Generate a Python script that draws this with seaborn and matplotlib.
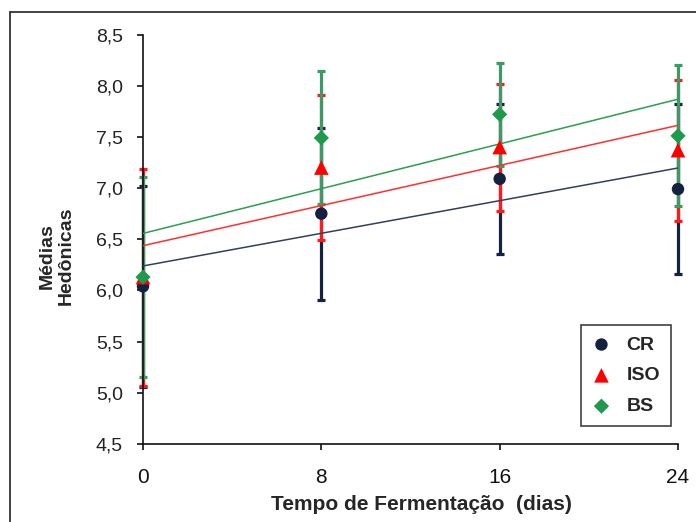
import numpy as np
import pandas as pd
import matplotlib
matplotlib.use("Agg")
import matplotlib.pyplot as plt
import seaborn as sns
from matplotlib.lines import Line2D

# ---- data ----
dias = [0, 8, 16, 24]
series = ["CR", "ISO", "BS"]
cr_mean = [6.04, 6.75, 7.09, 6.99]
cr_err = [0.98, 0.84, 0.73, 0.83]
iso_mean = [6.13, 7.20, 7.40, 7.37]
iso_err = [1.06, 0.71, 0.62, 0.69]
bs_mean = [6.13, 7.49, 7.72, 7.51]
bs_err = [0.98, 0.65, 0.50, 0.69]
yticks = [4.5, 5.0, 5.5, 6.0, 6.5, 7.0, 7.5, 8.0, 8.5]
ytick_labels = ["4,5", "5,0", "5,5", "6,0", "6,5", "7,0", "7,5", "8,0", "8,5"]
xticks = [0, 8, 16, 24]

df = pd.DataFrame({
    "dias": dias * 3,
    "media": cr_mean + iso_mean + bs_mean,
    "erro": cr_err + iso_err + bs_err,
    "grupo": [s for s in series for _ in dias],
})

sns.set_theme(style="white")
plt.rcParams['font.family'] = ['Liberation Sans', 'DejaVu Sans']

marker_col = {"CR": "#15223f", "ISO": "#ff0000", "BS": "#1e9a4c"}
err_col = {"CR": "#15223f", "ISO": "#ff1a1a", "BS": "#3a9a68"}
line_col = {"CR": "#34405a", "ISO": "#ff3030", "BS": "#2aa04e"}
markers = {"CR": "o", "ISO": "^", "BS": "D"}
sizes = {"CR": 80, "ISO": 110, "BS": 60}

fig = plt.figure(figsize=(6.96, 5.22), dpi=100)
ax = fig.add_axes([143 / 696, 78 / 522, 535 / 696, 409.5 / 522])

# error bars
for g in series:
    d = df[df.grupo == g]
    ax.errorbar(d.dias, d.media, yerr=d.erro, fmt="none", ecolor=err_col[g],
                elinewidth=2.3, capsize=3.2, capthick=2.3, clip_on=False, zorder=2)

# trend lines
for g in series:
    d = df[df.grupo == g]
    sns.regplot(data=d, x="dias", y="media", scatter=False, ci=None, truncate=True,
                color=line_col[g], line_kws={"linewidth": 1.1, "zorder": 3}, ax=ax)

# markers
for g in series:
    d = df[df.grupo == g]
    sns.scatterplot(data=d, x="dias", y="media", marker=markers[g], s=sizes[g],
                    color=marker_col[g], edgecolor="none", linewidth=0, ax=ax,
                    zorder=4, clip_on=False, label=g)

ax.set_xlim(0, 24)
ax.set_ylim(4.5, 8.5)
ax.set_yticks(yticks)
ax.set_yticklabels(ytick_labels, fontsize=14, color="#222222")
ax.set_xticks(xticks)
ax.set_xticklabels([str(x) for x in xticks], fontsize=15, color="#111111")

for s in ["top", "right"]:
    ax.spines[s].set_visible(False)
for s in ["left", "bottom"]:
    ax.spines[s].set_color("#111111")
    ax.spines[s].set_linewidth(1.2)
ax.tick_params(axis="both", direction="out", length=4.5, width=1.2, color="#111111",
               left=True, bottom=True)
ax.tick_params(axis="y", pad=10)
ax.tick_params(axis="x", pad=13)

ax.set_xlabel("Tempo de Fermentação  (dias)", fontsize=15, fontweight="bold")
ax.xaxis.set_label_coords(0.52, -0.125)
ax.set_ylabel("Médias\nHedônicas", fontsize=14, fontweight="bold", linespacing=1.15)
ax.yaxis.set_label_coords(-0.127, 0.46)

leg = ax.legend(loc="lower right", bbox_to_anchor=(0.987, 0.044), borderaxespad=0,
                frameon=True, fancybox=False, edgecolor="#111111",
                prop={"size": 14, "weight": "bold"}, labelspacing=0.68,
                handletextpad=0.8, borderpad=0.55, handlelength=1.0)
leg.get_frame().set_linewidth(1.2)

# outer frame (top and left border)
fig.add_artist(Line2D([10 / 696, 10 / 696], [0, 1 - 12 / 522], transform=fig.transFigure,
                      color="#222222", linewidth=1.2))
fig.add_artist(Line2D([10 / 696, 1], [1 - 12 / 522, 1 - 12 / 522], transform=fig.transFigure,
                      color="#222222", linewidth=1.2))

fig.savefig("out.png", dpi=100)
